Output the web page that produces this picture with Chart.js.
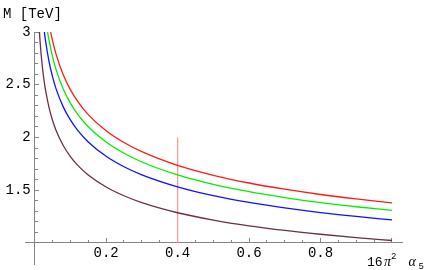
<!DOCTYPE html>
<html>
<head>
<meta charset="utf-8">
<script src="https://cdn.jsdelivr.net/npm/chart.js@4/dist/chart.umd.min.js"></script>
<style>
  html, body { margin: 0; padding: 0; background: #fff; }
  #wrap { width: 436px; height: 270px; }
</style>
</head>
<body>
<div id="wrap"><canvas id="chart" width="436" height="270"></canvas></div>
<script>
// M [TeV] against 16 pi^2 alpha_5 - four curves and a marker at 0.4

var alphaRed = [0.0448, 0.05, 0.06, 0.08, 0.1, 0.12, 0.15, 0.2, 0.25, 0.3, 0.4, 0.5, 0.6, 0.7, 0.8, 0.9, 1.0];
var mRed = [3.0, 2.918, 2.788, 2.595, 2.454, 2.345, 2.217, 2.064, 1.952, 1.865, 1.735, 1.641, 1.568, 1.509, 1.459, 1.417, 1.38];

var alphaGreen = [0.0361, 0.04, 0.05, 0.06, 0.08, 0.1, 0.12, 0.15, 0.2, 0.25, 0.3, 0.4, 0.5, 0.6, 0.7, 0.8, 0.9, 1.0];
var mGreen = [3.0, 2.925, 2.766, 2.643, 2.459, 2.326, 2.222, 2.102, 1.956, 1.85, 1.767, 1.645, 1.555, 1.486, 1.43, 1.383, 1.343, 1.308];

var alphaBlue = [0.0272, 0.03, 0.04, 0.05, 0.06, 0.08, 0.1, 0.12, 0.15, 0.2, 0.25, 0.3, 0.4, 0.5, 0.6, 0.7, 0.8, 0.9, 1.0];
var mBlue = [3.0, 2.927, 2.724, 2.576, 2.461, 2.29, 2.166, 2.069, 1.957, 1.821, 1.722, 1.646, 1.532, 1.448, 1.384, 1.332, 1.288, 1.251, 1.218];

var alphaMaroon = [0.0134, 0.015, 0.02, 0.025, 0.03, 0.04, 0.05, 0.06, 0.08, 0.1, 0.12, 0.15, 0.2, 0.25, 0.3, 0.4, 0.5, 0.6, 0.7, 0.8, 0.9, 1.0];
var mMaroon = [3.0, 2.92, 2.72, 2.573, 2.458, 2.288, 2.163, 2.067, 1.924, 1.819, 1.738, 1.644, 1.53, 1.447, 1.382, 1.286, 1.217, 1.162, 1.118, 1.082, 1.05, 1.023];

// vertical marker line
var markerAlpha = [0.4, 0.4];
var markerM = [1.0, 2.0];

var xLabelTicks = [0.2, 0.4, 0.6, 0.8];
var yLabelTicks = [1.5, 2, 2.5, 3];

var axisGray = '#858585';
var monoFont = '"Liberation Mono", "DejaVu Sans Mono", monospace';

function pts(xs, ys) {
  return xs.map(function(x, i) { return { x: x, y: ys[i] }; });
}

function curve(xs, ys, color, width) {
  return {
    data: pts(xs, ys),
    borderColor: color,
    borderWidth: width || 1.3,
    pointRadius: 0,
    fill: false,
    cubicInterpolationMode: 'monotone'
  };
}

function hasLabel(list, v) {
  return list.some(function(t) { return Math.abs(t - v) < 1e-6; });
}

// axes sit inside the plot, so they must not take room or pad the area
function noSpace(s) {
  if (s.isHorizontal()) s.height = 0; else s.width = 0;
  s.paddingTop = 0; s.paddingBottom = 0;
  s.paddingLeft = 0; s.paddingRight = 0;
}

function minorTickColor(c) {
  return c.tick && c.tick.value < 1.05 ? 'rgba(0,0,0,0)' : axisGray;
}

// axis titles, drawn as text pieces so the exponent and index sit right
var axisTitles = {
  id: 'axisTitles',
  afterDraw: function(chart) {
    var ctx = chart.ctx;
    ctx.save();
    ctx.fillStyle = '#000';
    ctx.textBaseline = 'alphabetic';
    ctx.textAlign = 'left';
    ctx.font = '14px ' + monoFont;
    ctx.fillText('M [TeV]', 3, 18);
    ctx.font = '13px ' + monoFont;
    ctx.fillText('16', 367, 266);
    ctx.font = 'italic 14px "Liberation Serif", serif';
    ctx.fillText('\u03c0', 384, 266);
    ctx.fillText('\u03b1', 408.5, 266);
    ctx.font = '9px ' + monoFont;
    ctx.fillText('2', 391, 258.5);
    ctx.fillText('5', 418.5, 268.5);
    ctx.restore();
  }
};

var chart = new Chart(document.getElementById('chart'), {
  type: 'line',
  data: {
    datasets: [
      curve(alphaRed, mRed, '#ff1a1a'),
      curve(alphaGreen, mGreen, '#00f000'),
      curve(alphaBlue, mBlue, '#1010ff'),
      curve(alphaMaroon, mMaroon, '#6a3042'),
      curve(markerAlpha, markerM, '#f7a0a0', 1.4)
    ]
  },
  options: {
    responsive: false,
    animation: false,
    layout: { padding: { left: 25, right: 34, top: 32, bottom: 6 } },
    plugins: {
      legend: { display: false },
      tooltip: { enabled: false }
    },
    scales: {
      x: {
        type: 'linear',
        min: -0.027,
        max: 1.028,
        position: { y: 1 },
        afterFit: noSpace,
        border: { display: true, color: axisGray, width: 1 },
        grid: { drawOnChartArea: false, drawTicks: true, tickLength: -5, tickColor: axisGray },
        ticks: {
          stepSize: 0.2,
          includeBounds: false,
          autoSkip: false,
          maxRotation: 0,
          padding: 6.5,
          color: '#000',
          font: { family: monoFont, size: 14 },
          callback: function(v) { return hasLabel(xLabelTicks, v) ? String(v) : ''; }
        }
      },
      xm: {
        type: 'linear',
        min: -0.027,
        max: 1.028,
        position: { y: 1 },
        afterFit: noSpace,
        border: { display: false },
        grid: { drawOnChartArea: false, drawTicks: true, tickLength: -3, tickColor: axisGray },
        ticks: { stepSize: 0.05, includeBounds: false, display: false }
      },
      y: {
        type: 'linear',
        min: 0.8,
        max: 3,
        position: { x: 0 },
        afterFit: noSpace,
        border: { display: true, color: axisGray, width: 1 },
        grid: { drawOnChartArea: false, drawTicks: true, tickLength: -5, tickColor: minorTickColor },
        ticks: { stepSize: 0.5, includeBounds: false, display: false }
      },
      ym: {
        type: 'linear',
        min: 0.8,
        max: 3,
        position: { x: 0 },
        afterFit: noSpace,
        border: { display: false },
        grid: { drawOnChartArea: false, drawTicks: true, tickLength: -3, tickColor: minorTickColor },
        ticks: { stepSize: 0.1, includeBounds: false, display: false }
      },
      // carries the y labels, right-aligned a few pixels left of the y axis
      yl: {
        type: 'linear',
        min: 0.8,
        max: 3,
        position: { x: -0.011 },
        afterFit: noSpace,
        border: { display: false },
        grid: { display: false },
        ticks: {
          stepSize: 0.5,
          includeBounds: false,
          autoSkip: false,
          color: '#000',
          font: { family: monoFont, size: 14 },
          callback: function(v) { return hasLabel(yLabelTicks, v) ? String(v) : ''; }
        }
      }
    }
  },
  plugins: [axisTitles]
});
</script>
</body>
</html>
